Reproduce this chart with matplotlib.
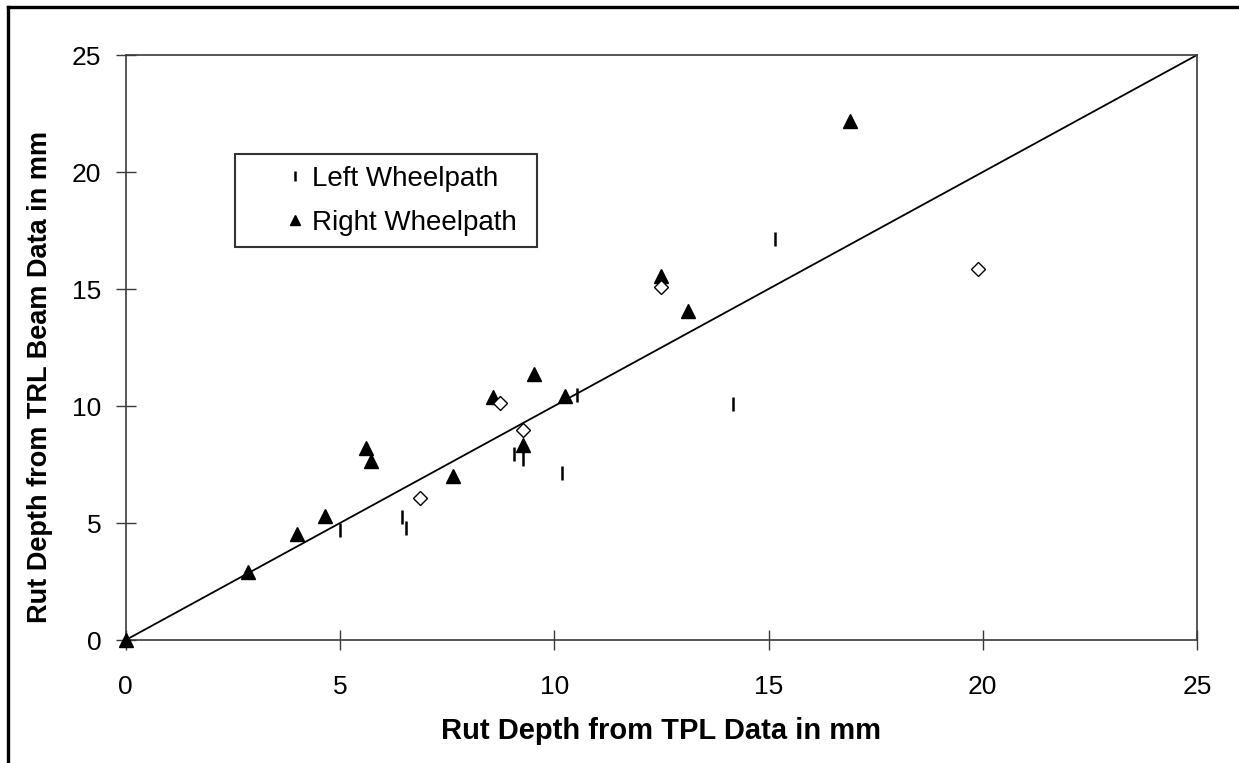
import matplotlib
matplotlib.use("Agg")
import matplotlib.pyplot as plt
from matplotlib.lines import Line2D

plt.rcParams['font.family'] = ['Liberation Sans', 'DejaVu Sans']

# left wheelpath (TPL vs TRL beam), mm
left_x = [5.0, 6.45, 6.53, 9.07, 9.26, 10.19, 10.52, 14.17, 15.15]
left_y = [4.7, 5.25, 4.8, 7.95, 7.75, 7.12, 10.47, 10.09, 17.12]

# right wheelpath
right_x = [0.0, 2.85, 4.0, 4.65, 5.61, 5.72, 7.64, 8.57, 9.26, 9.52, 10.25, 12.49, 13.11, 16.9]
right_y = [0.0, 2.9, 4.55, 5.3, 8.19, 7.66, 7.0, 10.37, 8.33, 11.37, 10.43, 15.56, 14.06, 22.2]

# unlabelled open diamonds
other_x = [6.87, 8.73, 9.27, 12.49, 19.89]
other_y = [6.07, 10.14, 8.97, 15.07, 15.84]

# line of equality
eq_x = [0, 25]
eq_y = [0, 25]

ticks = [0, 5, 10, 15, 20, 25]

fig = plt.figure(figsize=(12.39, 7.63), dpi=100)
ax = fig.add_axes([0.1015, 0.1612, 0.8646, 0.7667])

ax.plot(eq_x, eq_y, color='black', lw=1.3, zorder=2)
ax.plot(left_x, left_y, ls='none', marker='|', ms=10, mew=1.8, color='black',
        label='Left Wheelpath', zorder=3)
ax.plot(right_x, right_y, ls='none', marker='^', ms=10, color='black',
        label='Right Wheelpath', zorder=3, clip_on=False)
ax.plot(other_x, other_y, ls='none', marker='D', ms=7.5, mfc='white', mec='black',
        mew=1.0, zorder=4)

ax.set_xlim(0, 25)
ax.set_ylim(0, 25)
ax.set_xticks(ticks)
ax.set_yticks(ticks)
for s in ax.spines.values():
    s.set_color('#3a3a3a')
    s.set_linewidth(1.2)
ax.tick_params(axis='both', direction='inout', length=15, width=1.0, color='#3a3a3a',
               labelsize=19)
ax.tick_params(axis='x', pad=18)
ax.tick_params(axis='y', pad=10)

ax.set_xlabel('Rut Depth from TPL Data in mm', fontsize=21, fontweight='bold', va='center')
ax.set_ylabel('Rut Depth from TRL Beam Data in mm', fontsize=19.5, fontweight='bold', va='center')
ax.xaxis.set_label_coords(0.5, -0.156)
ax.yaxis.set_label_coords(-0.080, 0.449)

# legend box stretched to the reference width
leg = ax.legend(loc='upper left', bbox_to_anchor=(0.102, 0.830, 0.282, 0.0),
                mode='expand', borderaxespad=0,
                fontsize=20, frameon=True, fancybox=False, shadow=False,
                borderpad=0.4, handlelength=3.52, handletextpad=-1.16,
                labelspacing=0.65, markerscale=0.75)
leg.get_frame().set_edgecolor('black')
leg.get_frame().set_linewidth(1.5)

# outer chart border (runs off the right/bottom edge)
x0 = 8.3 / 1239
y0 = 1 - 6.7 / 763
fig.add_artist(Line2D([x0, x0], [0, y0], transform=fig.transFigure, color='black', lw=2.4))
fig.add_artist(Line2D([x0, 1], [y0, y0], transform=fig.transFigure, color='black', lw=2.4))

fig.savefig('out.png', dpi=100)
